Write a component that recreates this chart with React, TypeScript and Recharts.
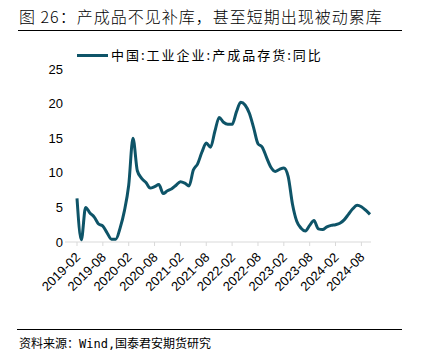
import { LineChart, Line, XAxis, YAxis } from 'recharts'

// 中国:工业企业:产成品存货:同比, monthly from 2019-02
const months: string[] = []
for (let y = 2019; y <= 2024; y++) {
  for (let m = 1; m <= 12; m++) {
    const key = `${y}-${String(m).padStart(2, '0')}`
    if (key >= '2019-02' && key <= '2024-10') months.push(key)
  }
}

const inventoryYoY = [
  6.3, 0.3, 5.0, 4.2, 3.6, 2.6, 2.3, 1.3, 0.4, 0.4, 2.0, 4.5,
  8.2, 15.0, 10.3, 9.2, 8.6, 7.8, 8.0, 8.3, 7.0, 7.4, 7.7, 8.2,
  8.7, 8.5, 8.1, 10.4, 11.3, 13.0, 14.3, 13.7, 16.0, 18.0, 17.3, 17.0,
  17.0, 18.8, 20.2, 19.8, 18.6, 16.5, 14.2, 13.7, 12.2, 10.8, 10.2, 10.5,
  10.7, 9.5, 5.5, 3.0, 2.0, 1.6, 2.4, 3.1, 1.9, 1.8, 2.2, 2.4,
  2.5, 2.7, 3.2, 4.0, 4.8, 5.3, 5.1, 4.6, 4.0,
]

const yTicks = [0, 5, 10, 15, 20, 25]

const data = months.map((month, i) => ({ month, value: inventoryYoY[i] }))

const LINE_COLOR = '#0e5468'
const CJK = '"Noto Sans CJK SC", "Noto Sans", sans-serif'

const AngledTick = ({ x, y, payload }: { x?: number; y?: number; payload?: { value: string } }) => (
  <text
    x={(x ?? 0) + 4}
    y={(y ?? 0) + 10}
    transform={`rotate(-45, ${(x ?? 0) + 4}, ${(y ?? 0) + 10})`}
    textAnchor="end"
    fontSize={13}
    fontFamily='"Liberation Sans", Arial, sans-serif'
    fill="#000"
  >
    {payload?.value}
  </text>
)

export default function App() {
  return (
    <div
      style={{
        position: 'absolute',
        left: 0,
        top: 0,
        width: 427,
        height: 363,
        background: '#fff',
        overflow: 'hidden',
      }}
    >
      <div
        style={{
          position: 'absolute',
          left: 19,
          top: 5,
          fontFamily: CJK,
          fontSize: 16,
          fontWeight: 300,
          letterSpacing: 1,
          color: '#000',
          whiteSpace: 'nowrap',
          lineHeight: '22px',
        }}
      >
        图 26：产成品不见补库，甚至短期出现被动累库
      </div>
      <div style={{ position: 'absolute', left: 18, top: 30, width: 384, height: 1, background: '#000' }} />

      <div style={{ position: 'absolute', left: 77, top: 54, width: 31, height: 3, background: LINE_COLOR }} />
      <div
        style={{
          position: 'absolute',
          left: 111,
          top: 46,
          fontFamily: CJK,
          fontSize: 13,
          letterSpacing: 2,
          color: '#000',
          whiteSpace: 'nowrap',
          lineHeight: '18px',
        }}
      >
        中国:工业企业:产成品存货:同比
      </div>

      <div style={{ position: 'absolute', left: 0, top: 0 }}>
        <LineChart width={427} height={363} data={data} margin={{ top: 69, right: 56, bottom: 41, left: 0 }}>
          <XAxis
            dataKey="month"
            interval={5}
            padding={{ left: 12, right: 1 }}
            tick={<AngledTick />}
            tickSize={4}
            axisLine={{ stroke: '#d9d9d9' }}
            tickLine={{ stroke: '#d9d9d9' }}
            height={80}
          />
          <YAxis
            domain={[0, 25]}
            ticks={yTicks}
            width={65}
            axisLine={false}
            tickLine={false}
            tickSize={0}
            tickMargin={2}
            tick={{ fill: '#000', fontSize: 13, fontFamily: '"Liberation Sans", Arial, sans-serif' }}
          />
          <Line
            type="monotone"
            dataKey="value"
            stroke={LINE_COLOR}
            strokeWidth={3}
            dot={false}
            isAnimationActive={false}
          />
        </LineChart>
      </div>

      <div style={{ position: 'absolute', left: 17, top: 329, width: 385, height: 1, background: '#000' }} />
      <div
        style={{
          position: 'absolute',
          left: 19,
          top: 336,
          fontFamily: '"DejaVu Sans Mono", "Noto Sans CJK SC", monospace',
          fontSize: 12,
          color: '#000',
          whiteSpace: 'nowrap',
          lineHeight: '16px',
        }}
      >
        资料来源：Wind,国泰君安期货研究
      </div>
    </div>
  )
}
